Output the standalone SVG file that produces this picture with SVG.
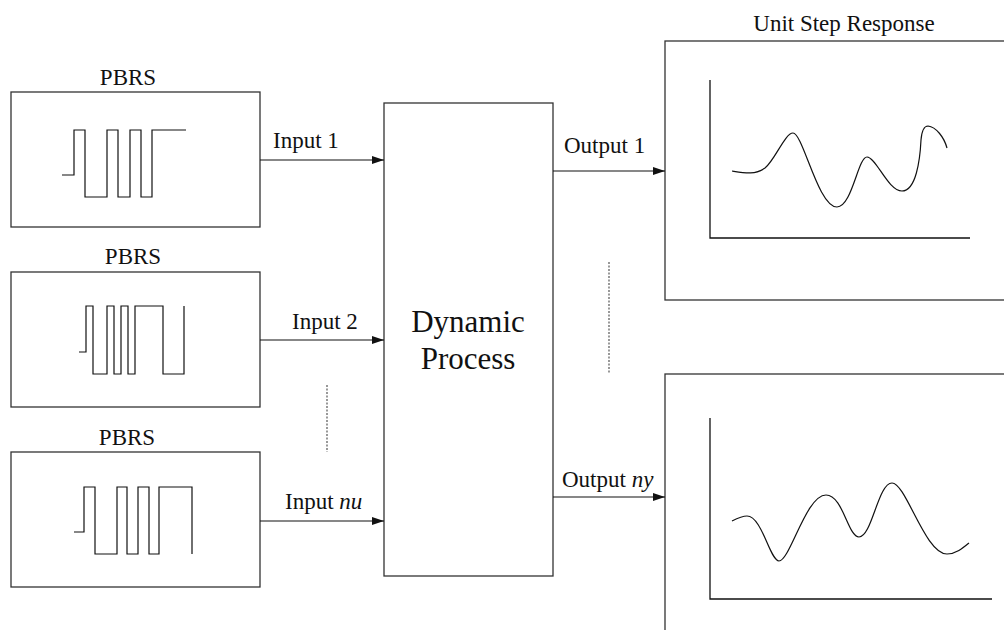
<svg xmlns="http://www.w3.org/2000/svg" width="1004" height="630" viewBox="0 0 1004 630">
<style>
  .box{fill:#fff;stroke:#333;stroke-width:1.3}
  .wave{fill:none;stroke:#111;stroke-width:1.2}
  .axis{fill:none;stroke:#111;stroke-width:1.3}
  .conn{fill:none;stroke:#111;stroke-width:1.2}
  .dot{fill:none;stroke:#555;stroke-width:1.2;stroke-dasharray:2 1.5}
  .lbl{font-family:"Liberation Serif","Times New Roman",serif;font-size:23px;fill:#111}
  .big{font-family:"Liberation Serif","Times New Roman",serif;font-size:31px;fill:#111;text-anchor:middle}
</style>
<defs>
  <marker id="arr" markerWidth="12" markerHeight="8" refX="12" refY="4" orient="auto" markerUnits="userSpaceOnUse">
    <path d="M0,0 L12,4 L0,8 Z" fill="#111"/>
  </marker>
</defs>
<rect width="1004" height="630" fill="#fff"/>

<g id="pbrs1">
  <text class="lbl" x="128" y="85" text-anchor="middle">PBRS</text>
  <rect class="box" x="11" y="92" width="249" height="135"/>
  <path class="wave" d="M62,175 H74 V130 H85 V197 H107 V130 H118 V197 H130 V130 H141 V197 H152 V130 H186"/>
</g>

<g id="pbrs2">
  <text class="lbl" x="133" y="264" text-anchor="middle">PBRS</text>
  <rect class="box" x="11" y="272" width="249" height="135"/>
  <path class="wave" d="M79,352 H86 V306 H93 V374 H107 V306 H114 V374 H121 V306 H128 V374 H135 V306 H163 V374 H184 V306"/>
</g>

<g id="pbrs3">
  <text class="lbl" x="127" y="445" text-anchor="middle">PBRS</text>
  <rect class="box" x="11" y="452" width="249" height="135"/>
  <path class="wave" d="M74,532 H84 V487 H95 V554 H117 V487 H127 V554 H138 V487 H149 V554 H159 V487 H192 V554"/>
</g>

<g id="process">
  <rect class="box" x="384" y="103" width="169" height="473"/>
  <text class="big" x="468" y="332">Dynamic</text>
  <text class="big" x="468" y="369">Process</text>
</g>

<g id="response1">
  <text class="lbl" x="844" y="31" text-anchor="middle">Unit Step Response</text>
  <rect class="box" x="665" y="41" width="345" height="259"/>
  <path class="axis" d="M710,80 V238 H970"/>
  <path class="wave" d="M732,171 C745,173 755,175 765,168 C775,160 785,133 793,133 C803,133 818,207 837,207 C852,207 858,157 867,157 C876,157 888,191 902,191 C916,191 920,160 921,140 C922,128 925,126 928,126 C936,127 944,137 947,148"/>
</g>

<g id="response2">
  <rect class="box" x="665" y="374" width="345" height="270"/>
  <path class="axis" d="M710,418 V599 H992"/>
  <path class="wave" d="M732,521 C738,518 742,516 747,516 C762,516 770,561 779,561 C790,561 806,495 826,495 C843,495 848,537 859,537 C872,537 878,483 892,483 C906,483 925,554 947,554 C956,554 963,548 969,543"/>
</g>

<g id="connectors">
  <line class="conn" x1="260" y1="160" x2="384" y2="160" marker-end="url(#arr)"/>
  <line class="conn" x1="260" y1="340" x2="384" y2="340" marker-end="url(#arr)"/>
  <line class="conn" x1="260" y1="521" x2="384" y2="521" marker-end="url(#arr)"/>
  <line class="conn" x1="553" y1="171" x2="665" y2="171" marker-end="url(#arr)"/>
  <line class="conn" x1="553" y1="497" x2="665" y2="497" marker-end="url(#arr)"/>
  <line class="dot" x1="327" y1="385" x2="327" y2="452"/>
  <line class="dot" x1="609" y1="262" x2="609" y2="374"/>
</g>

<g id="labels">
  <text class="lbl" x="273" y="148">Input 1</text>
  <text class="lbl" x="292" y="329">Input 2</text>
  <text class="lbl" x="285" y="509">Input <tspan font-style="italic">nu</tspan></text>
  <text class="lbl" x="564" y="153">Output 1</text>
  <text class="lbl" x="562" y="487">Output <tspan font-style="italic">ny</tspan></text>
</g>
</svg>
